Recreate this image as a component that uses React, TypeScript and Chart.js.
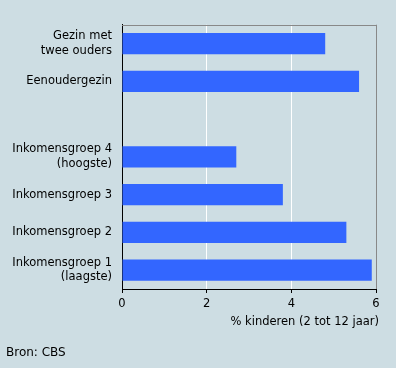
import React, { useEffect, useRef } from "react";
import { Chart, registerables } from "chart.js";

Chart.register(...registerables);

const categories: (string | string[])[] = [
  ["Gezin met", "twee ouders"],
  "Eenoudergezin",
  "",
  ["Inkomensgroep 4", "(hoogste)"],
  "Inkomensgroep 3",
  "Inkomensgroep 2",
  ["Inkomensgroep 1", "(laagste)"],
];
const values: (number | null)[] = [4.8, 5.6, null, 2.7, 3.8, 5.3, 5.9];
const xTicks = [0, 2, 4, 6];
const xTitle = "% kinderen (2 tot 12 jaar)";
const source = "Bron: CBS";

const BG = "#cddde3";
const BAR = "#3366ff";
const FONT = "'DejaVu Sans', Verdana, sans-serif";
const FS = 11.5;

const frame = {
  id: "frame",
  afterDraw(chart: any) {
    const { ctx, chartArea } = chart;
    ctx.save();
    ctx.strokeStyle = "#888888";
    ctx.lineWidth = 1;
    ctx.beginPath();
    ctx.moveTo(Math.round(chartArea.left), Math.round(chartArea.top) + 0.5);
    ctx.lineTo(Math.round(chartArea.right) + 1, Math.round(chartArea.top) + 0.5);
    ctx.stroke();
    ctx.fillStyle = "#000000";
    ctx.font = `${FS}px ${FONT}`;
    ctx.textAlign = "right";
    ctx.textBaseline = "middle";
    ctx.fillText(xTitle, chartArea.right + 3, chartArea.bottom + 33);
    ctx.restore();
  },
};

export default function App() {
  const ref = useRef<HTMLCanvasElement>(null);
  useEffect(() => {
    document.body.style.margin = "0";
    const chart = new Chart(ref.current!, {
      type: "bar",
      data: {
        labels: categories,
        datasets: [
          {
            data: values,
            backgroundColor: BAR,
            borderWidth: 0,
            barPercentage: 0.56,
            categoryPercentage: 1,
          },
        ],
      },
      options: {
        indexAxis: "y",
        animation: false,
        responsive: false,
        layout: { padding: { left: 0, right: 20, top: 15, bottom: 0 } },
        plugins: {
          legend: { display: false },
          tooltip: { enabled: false },
        },
        scales: {
          y: {
            grid: { display: false, drawTicks: false },
            border: { display: true, color: "#000000", width: 1 },
            ticks: {
              color: "#000000",
              padding: 10,
              font: { family: FONT, size: FS, lineHeight: 1.28 },
            },
            afterFit: (s: any) => {
              s.width = 122;
            },
          },
          x: {
            min: 0,
            max: 6,
            afterBuildTicks: (s: any) => {
              s.ticks = xTicks.map((v) => ({ value: v }));
            },
            grid: {
              color: (c: any) =>
                c.tick && c.tick.value === 6
                  ? "#888888"
                  : c.tick && c.tick.value === 0
                  ? "rgba(0,0,0,0)"
                  : "#ffffff",
              lineWidth: 1,
              drawTicks: true,
              tickLength: 4,
              tickColor: "#000000",
            },
            border: { display: true, color: "#000000", width: 1 },
            ticks: {
              color: "#000000",
              padding: 4,
              font: { family: FONT, size: FS },
            },
            title: { display: false },
            afterFit: (s: any) => {
              s.height = 79;
            },
          },
        },
      },
      plugins: [frame],
    } as any);
    return () => chart.destroy();
  }, []);
  return (
    <div style={{ position: "relative", width: 396, height: 368, background: BG }}>
      <canvas ref={ref} width={396} height={368} style={{ display: "block" }} />
      <div
        style={{
          position: "absolute",
          left: 6,
          top: 346,
          font: `12px ${FONT}`,
          lineHeight: "13px",
          color: "#000000",
        }}
      >
        {source}
      </div>
    </div>
  );
}
